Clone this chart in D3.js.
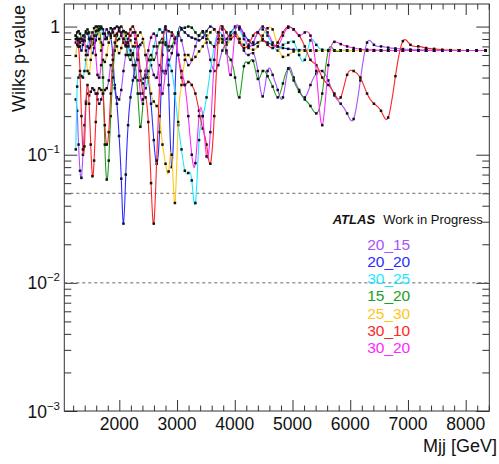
<!DOCTYPE html>
<html>
<head>
<meta charset="utf-8">
<script src="https://cdn.jsdelivr.net/npm/d3@7"></script>
<style>
  html, body { margin: 0; padding: 0; background: #fff; }
  svg { display: block; font-family: "Liberation Sans", Arial, Helvetica, sans-serif; }
</style>
</head>
<body>
<svg id="chart" width="499" height="464"></svg>
<script>
// Mjj bin centres (GeV) at which each window configuration was evaluated
const mjj = [1246,1270,1294,1319,1344,1370,1396,1422,1449,1477,
  1505,1534,1563,1592,1622,1653,1685,1717,1749,1782,
  1817,1851,1887,1922,1958,1996,2034,2072,2112,2152,
  2193,2235,2277,2320,2364,2409,2455,2502,2550,2597,
  2647,2697,2748,2801,2854,2908,2963,3020,3077,3135,
  3195,3255,3318,3381,3445,3511,3577,3645,3715,3785,
  3857,3930,4005,4080,4158,4237,4318,4399,4484,4568,
  4656,4744,4834,4926,5020,5115,5213,5311,5412,5515,
  5620,5726,5835,5946,6059,6175,6291,6411,6533,6657,
  6783,6912,7043,7178,7314,7453,7594,7738,7885,8035,
  8189,8344];

// Wilks p-values per window configuration
const pval_20_15 = [0.27,0.22,0.12,0.075,0.066,0.1,0.17,0.26,0.3,0.29,
  0.31,0.33,0.32,0.3,0.27,0.25,0.27,0.3,0.32,0.33,
  0.38,0.5,0.45,0.35,0.28,0.27,0.32,0.45,0.6,0.72,
  0.65,0.5,0.4,0.38,0.38,0.39,0.45,0.55,0.5,0.42,
  0.4,0.5,0.45,0.43,0.5,0.62,0.75,0.85,0.78,0.6,
  0.5,0.55,0.7,0.85,0.9,0.75,0.55,0.45,0.5,0.65,
  0.75,0.85,0.9,0.8,0.65,0.6,0.62,0.45,0.285,0.45,
  0.42,0.32,0.28,0.47,0.4,0.32,0.28,0.35,0.43,0.45,
  0.38,0.29,0.25,0.21,0.19,0.38,0.75,0.72,0.7,0.685,
  0.675,0.668,0.662,0.658,0.655,0.653,0.652,0.651,0.65,0.65,
  0.65,0.65];

const pval_20_20 = [0.85,0.82,0.78,0.7,0.65,0.72,0.85,0.92,0.88,0.8,
  0.7,0.62,0.68,0.78,0.88,0.95,1.0,0.95,0.85,0.8,
  0.88,0.82,0.6,0.33,0.25,0.14,0.065,0.029,0.07,0.17,
  0.28,0.38,0.5,0.62,0.72,0.75,0.6,0.4,0.25,0.13,
  0.085,0.15,0.6,1.0,0.35,0.08,0.3,0.9,0.97,0.9,
  0.85,0.82,0.8,0.78,0.82,0.92,1.0,0.95,0.85,0.78,
  0.8,0.9,0.98,1.0,0.88,0.78,0.72,0.75,0.78,0.75,
  0.72,0.7,0.68,0.67,0.66,0.655,0.652,0.65,0.65,0.65,
  0.65,0.65,0.65,0.65,0.65,0.65,0.65,0.65,0.65,0.65,
  0.65,0.65,0.65,0.65,0.65,0.65,0.65,0.65,0.65,0.65,
  0.65,0.65];

const pval_30_25 = [0.11,0.34,0.4,0.42,0.41,0.4,0.45,0.55,0.7,0.8,
  0.78,0.72,0.75,0.85,0.95,1.0,0.97,0.88,0.8,0.82,
  0.9,0.97,0.95,0.85,0.78,0.8,0.88,0.92,0.85,0.7,
  0.6,0.62,0.7,0.6,0.45,0.36,0.33,0.4,0.55,0.7,
  0.85,0.95,0.9,0.75,0.55,0.45,0.3,0.17,0.11,0.075,
  0.072,0.063,0.042,0.13,0.2,0.28,0.45,0.7,0.9,0.85,
  0.75,0.85,1.0,0.95,0.8,0.7,0.75,0.9,0.95,0.85,
  0.72,0.65,0.72,0.75,0.76,0.6,0.55,0.78,0.72,0.66,
  0.655,0.652,0.65,0.65,0.65,0.65,0.65,0.65,0.65,0.65,
  0.65,0.65,0.65,0.65,0.65,0.65,0.65,0.65,0.65,0.65,
  0.65,0.65];

const pval_15_20 = [0.85,0.9,0.92,0.88,0.8,0.78,0.82,0.9,0.95,0.9,
  0.82,0.75,0.8,0.92,1.0,0.95,0.75,0.4,0.12,0.064,
  0.09,0.2,0.4,0.65,0.85,0.95,1.0,0.92,0.75,0.6,
  0.55,0.6,0.5,0.3,0.165,0.25,0.42,0.55,0.6,0.55,
  0.62,0.75,0.8,0.72,0.65,0.7,0.8,0.88,0.95,0.98,
  1.0,0.98,0.9,0.85,0.92,0.85,0.75,0.7,0.75,0.8,
  0.62,0.55,0.4,0.28,0.49,0.52,0.54,0.39,0.45,0.41,
  0.34,0.28,0.36,0.47,0.38,0.31,0.27,0.24,0.21,0.3,
  0.65,0.65,0.65,0.65,0.65,0.65,0.65,0.65,0.65,0.65,
  0.65,0.65,0.65,0.65,0.65,0.65,0.65,0.65,0.65,0.65,
  0.65,0.65];

const pval_25_30 = [0.59,0.75,0.8,0.8,0.78,0.77,0.77,0.6,0.45,0.43,
  0.55,0.8,0.97,1.0,0.93,0.8,0.65,0.55,0.53,0.6,
  0.75,0.88,0.92,0.85,0.7,0.62,0.68,0.8,0.9,0.88,
  0.78,0.7,0.75,0.85,0.9,0.8,0.6,0.45,0.3,0.26,
  0.24,0.2,0.12,0.085,0.074,0.1,0.042,0.18,0.35,0.55,
  0.6,0.55,0.58,0.64,0.7,0.8,0.9,0.95,0.85,0.75,
  0.72,0.8,0.88,0.8,0.72,0.68,0.66,0.7,0.85,0.97,
  0.95,0.7,0.58,0.6,0.64,0.65,0.65,0.65,0.65,0.65,
  0.65,0.65,0.65,0.65,0.65,0.65,0.65,0.65,0.65,0.65,
  0.65,0.65,0.65,0.65,0.65,0.65,0.65,0.65,0.65,0.65,
  0.65,0.65];

const pval_30_10 = [0.75,0.78,0.7,0.45,0.2,0.11,0.116,0.25,0.35,0.25,
  0.12,0.068,0.09,0.18,0.3,0.33,0.32,0.3,0.17,0.12,
  0.15,0.3,0.55,0.75,0.88,0.92,0.85,0.75,0.7,0.8,
  0.95,1.0,0.9,0.7,0.45,0.3,0.28,0.18,0.06,0.029,
  0.09,0.35,0.75,0.95,0.92,0.9,0.82,0.6,0.4,0.35,
  0.37,0.35,0.3,0.22,0.16,0.12,0.085,0.2,0.8,1.0,
  0.9,0.8,0.85,0.75,0.68,0.72,0.85,0.9,0.8,0.72,
  0.68,0.75,0.9,1.0,0.95,0.85,0.7,0.55,0.5,0.4,
  0.35,0.3,0.28,0.42,0.45,0.4,0.3,0.25,0.22,0.195,
  0.41,0.77,0.72,0.7,0.68,0.67,0.66,0.655,0.652,0.65,
  0.65,0.65];

const pval_30_20 = [0.8,0.72,0.7,0.75,0.8,0.85,0.78,0.65,0.6,0.68,
  0.8,0.9,0.85,0.6,0.42,0.4,0.5,0.72,0.88,0.95,
  0.9,0.85,0.9,0.97,1.0,0.98,0.9,0.8,0.72,0.75,
  0.85,0.9,0.8,0.55,0.3,0.27,0.4,0.65,0.82,0.88,
  0.7,0.35,0.3,0.45,0.7,0.85,0.8,0.6,0.45,0.35,
  0.2,0.1,0.086,0.2,0.2,0.097,0.15,0.55,0.9,0.95,
  0.65,0.42,0.9,0.98,0.85,0.7,0.75,0.9,1.0,0.9,
  0.75,0.7,0.85,0.98,0.95,0.85,0.9,0.85,0.45,0.17,
  0.5,0.76,0.73,0.7,0.68,0.665,0.66,0.655,0.652,0.65,
  0.65,0.65,0.65,0.65,0.65,0.65,0.65,0.65,0.65,0.65,
  0.65,0.65];

const seriesNames  = ["20_15", "20_20", "30_25", "15_20", "25_30", "30_10", "30_20"];
const seriesColors = ["#a852ff", "#2b2bff", "#1ee8ff", "#20a020", "#ffc61a", "#ff2424", "#ff28ff"];
const seriesValues = [pval_20_15, pval_20_20, pval_30_25, pval_15_20, pval_25_30, pval_30_10, pval_30_20];

const xTickValues = [2000, 3000, 4000, 5000, 6000, 7000, 8000];
const xTickLabels = ["2000", "3000", "4000", "5000", "6000", "7000", "8000"];
const yTickValues = [1, 0.1, 0.01, 0.001];
const yTickBases  = ["1", "10", "10", "10"];
const yTickExps   = ["", "\u22121", "\u22122", "\u22123"];
const thresholds  = [0.05, 0.01];

// ---- layout ----
const frame = { left: 64.3, right: 489.3, top: 4, bottom: 411 };
const svg = d3.select("#chart");

const x = d3.scaleLinear().domain([1047, 8409]).range([frame.left, frame.right]);
const y = d3.scaleLog().domain([1e-3, 1.5]).range([frame.bottom, frame.top]);

// minor tick positions
const xMinor = d3.range(1200, 8401, 200).filter(v => v % 1000 !== 0);
const yMinor = [];
[1e-3, 1e-2, 1e-1, 1].forEach(d => { for (let k = 2; k <= 9; k++) if (k * d <= 1.5) yMinor.push(k * d); });

svg.append("defs").append("clipPath").attr("id", "plotClip")
  .append("rect")
  .attr("x", frame.left).attr("y", frame.top)
  .attr("width", frame.right - frame.left).attr("height", frame.bottom - frame.top);

// ---- axes (ticks inside the frame on all four sides) ----
function drawAxis(axis, tr) {
  const g = svg.append("g").attr("transform", tr).call(axis);
  g.select(".domain").remove();
  g.selectAll("text").remove();
  g.selectAll("line").attr("stroke", "#333").attr("stroke-width", 1);
  return g;
}
drawAxis(d3.axisBottom(x).tickValues(xTickValues).tickSize(-11), `translate(0,${frame.bottom})`);
drawAxis(d3.axisBottom(x).tickValues(xMinor).tickSize(-5.5), `translate(0,${frame.bottom})`);
drawAxis(d3.axisTop(x).tickValues(xTickValues).tickSize(-11), `translate(0,${frame.top})`);
drawAxis(d3.axisTop(x).tickValues(xMinor).tickSize(-5.5), `translate(0,${frame.top})`);
drawAxis(d3.axisLeft(y).tickValues(yTickValues).tickSize(-13), `translate(${frame.left},0)`);
drawAxis(d3.axisLeft(y).tickValues(yMinor).tickSize(-7), `translate(${frame.left},0)`);
drawAxis(d3.axisRight(y).tickValues(yTickValues).tickSize(-13), `translate(${frame.right},0)`);
drawAxis(d3.axisRight(y).tickValues(yMinor).tickSize(-7), `translate(${frame.right},0)`);

svg.append("rect")
  .attr("x", frame.left).attr("y", frame.top)
  .attr("width", frame.right - frame.left).attr("height", frame.bottom - frame.top)
  .attr("fill", "none").attr("stroke", "#333").attr("stroke-width", 1);

// tick labels
svg.append("g").selectAll("text").data(xTickValues).join("text")
  .attr("x", d => x(d)).attr("y", 430)
  .attr("text-anchor", "middle").attr("font-size", 17.5).attr("fill", "#111")
  .text((d, i) => xTickLabels[i]);

const yLab = svg.append("g").selectAll("text").data(yTickValues).join("text")
  .attr("x", 60).attr("y", d => y(d) + 6.5)
  .attr("text-anchor", "end").attr("font-size", 17.5).attr("fill", "#111");
yLab.append("tspan").text((d, i) => yTickBases[i]);
yLab.append("tspan").attr("dy", -8).attr("font-size", 11.5).text((d, i) => yTickExps[i]);

// axis titles
svg.append("text")
  .attr("transform", "translate(25,5) rotate(-90)")
  .attr("text-anchor", "end").attr("font-size", 18).attr("fill", "#111")
  .text("Wilks p-value");
svg.append("text")
  .attr("x", 497).attr("y", 452)
  .attr("text-anchor", "end").attr("font-size", 18).attr("fill", "#111")
  .text("Mjj [GeV]");

// ---- significance reference lines ----
svg.append("g").selectAll("line").data(thresholds).join("line")
  .attr("x1", frame.left).attr("x2", frame.right)
  .attr("y1", d => y(d)).attr("y2", d => y(d))
  .attr("stroke", "#666").attr("stroke-width", 1).attr("stroke-dasharray", "3,3");

// ---- smooth spline curves with markers ----
const line = d3.line()
  .x(d => x(d.m)).y(d => y(d.p))
  .curve(d3.curveNatural);

const plot = svg.append("g").attr("clip-path", "url(#plotClip)");
seriesValues.forEach((vals, si) => {
  const pts = vals.map((p, i) => ({ m: mjj[i], p: p }));
  plot.append("path")
    .datum(pts)
    .attr("d", line)
    .attr("fill", "none")
    .attr("stroke", seriesColors[si])
    .attr("stroke-width", 1.1);
  plot.append("g").selectAll("rect").data(pts).join("rect")
    .attr("x", d => x(d.m) - 1.25).attr("y", d => y(d.p) - 1.25)
    .attr("width", 2.5).attr("height", 2.5)
    .attr("fill", "#111");
});

// ---- labels ----
const atlas = svg.append("text").attr("x", 332.7).attr("y", 224).attr("font-size", 13).attr("fill", "#111");
atlas.append("tspan").attr("font-weight", "bold").attr("font-style", "italic").text("ATLAS");
atlas.append("tspan").attr("x", 383.3).text("Work in Progress");

svg.append("g").selectAll("text").data(seriesNames).join("text")
  .attr("x", 388.7).attr("y", (d, i) => 249.7 + i * 17.22)
  .attr("text-anchor", "middle").attr("font-size", 15.5)
  .attr("fill", (d, i) => seriesColors[i])
  .text(d => d);
</script>
</body>
</html>
